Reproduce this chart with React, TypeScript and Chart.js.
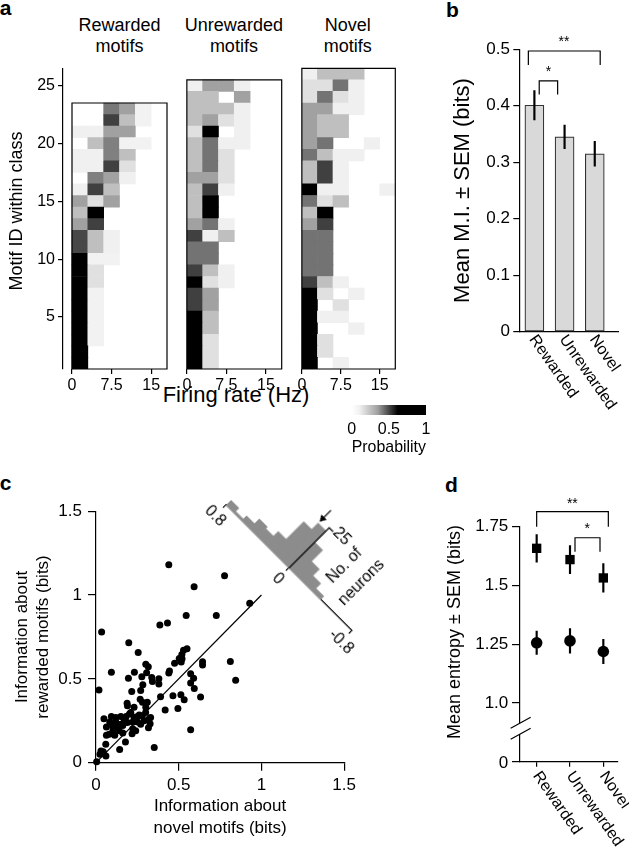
import React, { useEffect, useRef } from "react";
import { Chart, registerables } from "chart.js";

Chart.register(...registerables);

const FONT = "'Liberation Sans', Arial, Helvetica, sans-serif";
Chart.defaults.font.family = FONT;
Chart.defaults.color = "#000";

/* ================= panel a : firing-rate distributions ================= */
const FIRING_BIN_CENTERS = [1.5, 4.5, 7.5, 10.5, 13.5, 16.5];
const FIRING_BIN_WIDTH = 3;
const FIRING_TICKS = [0, 7.5, 15];
const MOTIF_TICKS = [5, 10, 15, 20, 25];
const MOTIF_MIN = 0.5;
const MOTIF_MAX = 26.5;
const HEATMAP_TITLES = ["Rewarded", "Unrewarded", "Novel"];
const PROB_TICKS = [0, 0.5, 1];

// probability per cell; rows from the highest motif ID (top) down to motif 1
const REWARDED_GRID = [
  [0, 0, 0.53, 0.37, 0.05, 0],
  [0, 0, 0.75, 0.25, 0.05, 0],
  [0.06, 0.06, 0.37, 0.37, 0, 0],
  [0, 0.25, 0.5, 0.05, 0.05, 0],
  [0.06, 0.06, 0.5, 0.25, 0, 0],
  [0.06, 0.06, 0.75, 0.12, 0, 0],
  [0, 0.5, 0.37, 0.06, 0, 0],
  [0.06, 0.75, 0.25, 0, 0, 0],
  [0.37, 0.12, 0.37, 0, 0, 0],
  [0.25, 1, 0, 0, 0, 0],
  [0.37, 0.75, 0, 0, 0, 0],
  [0.72, 0.25, 0.06, 0, 0, 0],
  [0.72, 0.25, 0.06, 0, 0, 0],
  [1, 0.05, 0.05, 0, 0, 0],
  [1, 0.12, 0, 0, 0, 0],
  [1, 0.12, 0, 0, 0, 0],
  [1, 0.05, 0, 0, 0, 0],
  [1, 0.05, 0, 0, 0, 0],
  [1, 0.05, 0, 0, 0, 0],
  [1, 0.05, 0, 0, 0, 0],
  [1, 0.05, 0, 0, 0, 0],
  [1, 0, 0, 0, 0, 0],
  [1, 0, 0, 0, 0, 0],
];

const UNREWARDED_GRID = [
  [0.06, 0.37, 0.37, 0.06, 0, 0],
  [0.25, 0.25, 0, 0.37, 0, 0],
  [0.25, 0.25, 0.25, 0.06, 0, 0],
  [0.25, 0.37, 0.12, 0.06, 0, 0],
  [0.12, 1, 0, 0.06, 0, 0],
  [0.25, 0.55, 0.06, 0.06, 0, 0],
  [0.25, 0.55, 0.12, 0, 0, 0],
  [0.25, 0.55, 0.12, 0, 0, 0],
  [0.37, 0.37, 0.12, 0, 0, 0],
  [0.25, 0.75, 0.06, 0, 0, 0],
  [0.25, 1, 0, 0, 0, 0],
  [0.25, 1, 0, 0, 0, 0],
  [0.37, 0.55, 0.06, 0, 0, 0],
  [0.75, 0.06, 0.25, 0, 0, 0],
  [0.55, 0.55, 0, 0, 0, 0],
  [0.55, 0.55, 0, 0, 0, 0],
  [0.75, 0.25, 0.06, 0, 0, 0],
  [1, 0.12, 0.06, 0, 0, 0],
  [0.75, 0.37, 0, 0, 0, 0],
  [0.75, 0.37, 0, 0, 0, 0],
  [1, 0.25, 0, 0, 0, 0],
  [1, 0.25, 0, 0, 0, 0],
  [1, 0.12, 0, 0, 0, 0],
  [1, 0.12, 0, 0, 0, 0],
  [1, 0.12, 0, 0, 0, 0],
];

const NOVEL_GRID = [
  [0.06, 0.25, 0.25, 0.25, 0, 0],
  [0.12, 0.12, 0.55, 0.06, 0, 0],
  [0.12, 0.55, 0.12, 0.06, 0, 0],
  [0.37, 0.37, 0.06, 0.06, 0, 0],
  [0.37, 0.25, 0.25, 0, 0, 0],
  [0.37, 0.25, 0.25, 0, 0, 0],
  [0.37, 0.55, 0, 0, 0.06, 0],
  [0.55, 0.25, 0.06, 0.06, 0, 0],
  [0.25, 0.75, 0.06, 0, 0, 0],
  [0.25, 0.75, 0.06, 0, 0, 0],
  [1, 0.06, 0.06, 0, 0, 0.06],
  [0.55, 0.12, 0.25, 0, 0, 0],
  [0.25, 1, 0, 0, 0, 0],
  [0.37, 0.75, 0, 0, 0, 0],
  [0.55, 0.55, 0, 0, 0, 0],
  [0.55, 0.55, 0, 0, 0, 0],
  [0.55, 0.55, 0, 0, 0, 0],
  [0.55, 0.55, 0, 0, 0, 0],
  [0.75, 0.25, 0.06, 0, 0, 0],
  [1, 0.12, 0, 0.06, 0, 0],
  [1, 0, 0.12, 0, 0, 0],
  [1, 0.06, 0.06, 0, 0, 0],
  [1, 0, 0, 0.06, 0, 0],
  [1, 0.12, 0, 0, 0, 0],
  [1, 0.12, 0, 0, 0, 0],
  [1, 0, 0.06, 0, 0, 0],
];

/* ================= panel b : mutual information ================= */
const CLASS_LABELS = ["Rewarded", "Unrewarded", "Novel"];
const MI_MEAN = [0.401, 0.345, 0.315];
const MI_SEM = [0.026, 0.021, 0.022];
const MI_TICKS = [0, 0.1, 0.2, 0.3, 0.4, 0.5];

/* ================= panel c : scatter + rotated histogram ================= */
const NOVEL_INFO = [
  0.929, 0.545, 0.727, 0.386, 0.432, 0.034, 0.198, 0.255, 0.529, 0.519, 0.503, 0.475, 0.515, 0.644, 0.644,
  0.812, 0.844, 0.093, 0.444, 0.44, 0.232, 0.301, 0.316, 0.306, 0.196, 0.277, 0.283, 0.337, 0.341, 0.216,
  0.018, 0.39, 0.572, 0.59, 0.572, 0.594, 0.465, 0.513, 0.533, 0.632, 0.495, 0.418, 0.572, 0.352, 0.267,
  0.281, 0.301, 0.188, 0.23, 0.261, 0.241, 0.202, 0.182, 0.15, 0.093, 0.048, 0.083, 0.119, 0.063, 0.103,
  0.127, 0.162, 0.222, 0.251, 0.321, 0.327, 0.317, 0.222, 0.218, 0.162, 0.113, 0.063, 0.059, 0.178, 0.143,
  0.044, 0.024, 0.004, 0.44, 0.777, 0.593, 0.12, 0.17, 0.21, 0.28, 0.3, 0.33, 0.14, 0.1, 0.19,
  0.24, 0.27, 0.29, 0.31, 0.38, 0.38, 0.52, 0.55, 0.27, 0.06, 0.03, 0.19, 0.23, 0.15, 0.08,
];
const REWARDED_INFO = [
  0.951, 0.878, 0.878, 0.821, 0.833, 0.78, 0.715, 0.657, 0.671, 0.646, 0.622, 0.593, 0.6, 0.602, 0.583,
  0.604, 0.492, 0.539, 0.547, 0.535, 0.539, 0.587, 0.572, 0.537, 0.504, 0.512, 0.465, 0.508, 0.484, 0.425,
  0.433, 0.394, 0.531, 0.504, 0.476, 0.443, 0.4, 0.406, 0.376, 0.392, 0.323, 0.315, 0.197, 0.091, 0.378,
  0.36, 0.331, 0.354, 0.331, 0.285, 0.272, 0.291, 0.276, 0.276, 0.276, 0.262, 0.242, 0.242, 0.213, 0.193,
  0.213, 0.222, 0.242, 0.242, 0.262, 0.232, 0.209, 0.203, 0.173, 0.177, 0.163, 0.163, 0.11, 0.124, 0.079,
  0.065, 0.051, 0.006, 1.181, 1.115, 1.05, 0.27, 0.26, 0.3, 0.28, 0.3, 0.27, 0.19, 0.22, 0.24,
  0.19, 0.23, 0.25, 0.36, 0.5, 0.47, 0.62, 0.68, 0.43, 0.04, 0.07, 0.34, 0.27, 0.23, 0.17,
];
const INFO_TICKS = [0, 0.5, 1, 1.5];
const DIAGONAL_END = 1.0;
// histogram of (rewarded - novel) information, 0.1-bit bins
const DIFF_BIN_CENTERS = [0.75, 0.65, 0.55, 0.45, 0.35, 0.25, 0.15, 0.05, -0.05, -0.15, -0.25, -0.35];
const DIFF_COUNTS = [3, 1, 3, 6, 5, 8, 19, 23, 16, 9, 5, 2];
const DIFF_TICKS = [0.8, 0, -0.8];
const DIFF_MEAN = 0.1;
const COUNT_TICK = 25;

/* ================= panel d : entropy ================= */
const ENTROPY_SQ_MEAN = [1.658, 1.61, 1.532];
const ENTROPY_SQ_SEM = [0.059, 0.06, 0.061];
const ENTROPY_CI_MEAN = [1.256, 1.264, 1.219];
const ENTROPY_CI_SEM = [0.05, 0.052, 0.052];
const ENTROPY_TICKS = [0.75, 1, 1.25, 1.5, 1.75];
const ENTROPY_TICK_LABELS = ["0", "1.0", "1.25", "1.5", "1.75"];

/* ================= helpers ================= */
const fixTicks = (vals: number[]) => (scale: any) => {
  scale.ticks = vals.map((v) => ({ value: v }));
};
const fixW = (w: number) => (scale: any) => {
  scale.width = w;
};
const fixH = (h: number) => (scale: any) => {
  scale.height = h;
};
const grayOf = (v: number) => {
  const g = Math.round(255 * (1 - v));
  return `rgb(${g},${g},${g})`;
};
const makeBase = () => ({
  animation: false,
  responsive: false,
  maintainAspectRatio: false,
  events: [],
});
const makeNoPlugins = () => ({ legend: { display: false }, tooltip: { enabled: false }, title: { display: false } });

type Mark = { x: number; y: number; text: string; size: number; align?: string; baseline?: string; rot?: number; pixel?: boolean };
const textMarks = (id: string, marks: Mark[]) => ({
  id,
  afterDraw(chart: any) {
    const { ctx, scales } = chart;
    ctx.save();
    ctx.fillStyle = "#000";
    for (const m of marks) {
      const px = m.pixel ? m.x : scales.x.getPixelForValue(m.x);
      const py = m.pixel ? m.y : scales.y.getPixelForValue(m.y);
      ctx.save();
      ctx.translate(px, py);
      if (m.rot) ctx.rotate(m.rot);
      ctx.font = `${m.size}px ${FONT}`;
      ctx.textAlign = m.align || "center";
      ctx.textBaseline = m.baseline || "middle";
      ctx.fillText(m.text, 0, 0);
      ctx.restore();
    }
    ctx.restore();
  },
});

// y tick labels drawn at the y scale's pixels (used for the broken entropy axis)
const yTickLabels = (id: string, values: number[], labels: string[], size: number, gap: number) => ({
  id,
  afterDraw(chart: any) {
    const { ctx, scales, chartArea } = chart;
    ctx.save();
    ctx.font = `${size}px ${FONT}`;
    ctx.fillStyle = "#000";
    ctx.textAlign = "right";
    ctx.textBaseline = "middle";
    values.forEach((v, i) => ctx.fillText(labels[i], chartArea.left - gap, scales.y.getPixelForValue(v)));
    ctx.restore();
  },
});

const rotatedCategoryLabels = (id: string, labels: string[], dx: number, dy: number, size: number, deg: number) => ({
  id,
  afterDraw(chart: any) {
    const { ctx, scales, chartArea } = chart;
    ctx.save();
    ctx.font = `${size}px ${FONT}`;
    ctx.fillStyle = "#000";
    ctx.textAlign = "left";
    ctx.textBaseline = "middle";
    labels.forEach((lab, i) => {
      const px = scales.x.getPixelForValue(i);
      ctx.save();
      ctx.translate(px + dx, chartArea.bottom + dy);
      ctx.rotate((deg * Math.PI) / 180);
      ctx.fillText(lab, 0, 0);
      ctx.restore();
    });
    ctx.restore();
  },
});

const lineDs = (data: any[], extra: any = {}) => ({
  type: "line",
  data,
  borderColor: "#000",
  borderWidth: 1.2,
  pointRadius: 0,
  fill: false,
  tension: 0,
  clip: false,
  order: 0,
  ...extra,
});

const bracket = (x0: number, x1: number, yTop: number, yLeg: number) => [
  { x: x0, y: yLeg },
  { x: x0, y: yTop },
  { x: x1, y: yTop },
  { x: x1, y: yLeg },
];

/* ================= chart configs ================= */
function heatmapConfig(grid: number[][], showY: boolean, xMin: number, pad: any) {
  const n = grid.length;
  const xMax = FIRING_BIN_CENTERS.length * FIRING_BIN_WIDTH;
  const cells: any[] = [];
  grid.forEach((row, i) => {
    const id = n - i;
    row.forEach((v, j) => {
      if (v > 0) cells.push({ x: FIRING_BIN_CENTERS[j], y: [id - 0.5, id + 0.5], v });
    });
  });
  return {
    type: "bar",
    data: {
      datasets: [
        {
          type: "bar",
          data: cells.map((c) => ({ x: c.x, y: c.y })),
          backgroundColor: cells.map((c) => grayOf(c.v)),
          borderWidth: 0,
          barPercentage: 1,
          categoryPercentage: 1,
          order: 1,
        },
        lineDs([
          { x: 0, y: MOTIF_MIN },
          { x: xMax, y: MOTIF_MIN },
          { x: xMax, y: n + 0.5 },
          { x: 0, y: n + 0.5 },
          { x: 0, y: MOTIF_MIN },
        ]),
      ],
    },
    options: {
      ...makeBase(),
      layout: { padding: pad },
      plugins: makeNoPlugins(),
      scales: {
        x: {
          type: "linear",
          offset: false,
          min: xMin,
          max: xMax,
          afterBuildTicks: fixTicks(FIRING_TICKS),
          afterFit: fixH(31),
          grid: { offset: false, drawOnChartArea: false, drawTicks: true, tickLength: 5, color: "#000", lineWidth: 1.2 },
          border: { display: false },
          ticks: { font: { size: 16 }, color: "#000", padding: 2.4, maxRotation: 0, autoSkip: false, callback: (v: any) => String(v) },
        },
        y: {
          type: "linear",
          display: showY,
          min: MOTIF_MIN,
          max: MOTIF_MAX,
          afterBuildTicks: fixTicks(MOTIF_TICKS),
          afterFit: fixW(showY ? 63 : 0),
          grid: { drawOnChartArea: false, tickLength: 5, color: "#000", lineWidth: 1.2 },
          border: { display: true, color: "#000", width: 1.2 },
          ticks: { font: { size: 16 }, color: "#000", padding: 3, autoSkip: false, callback: (v: any) => String(v) },
        },
      },
    },
    plugins: showY
      ? [textMarks("aTitle", [{ x: 17, y: 156, text: "Motif ID within class", size: 18, rot: -Math.PI / 2, pixel: true }])]
      : [],
  };
}

function colorbarConfig() {
  return {
    type: "bar",
    data: {
      labels: ["p"],
      datasets: [
        {
          data: [[PROB_TICKS[0], PROB_TICKS[PROB_TICKS.length - 1]]],
          backgroundColor: (c: any) => {
            const ca = c.chart.chartArea;
            if (!ca) return "#888";
            const g = c.chart.ctx.createLinearGradient(ca.left, 0, ca.right, 0);
            g.addColorStop(0, "#ffffff");
            g.addColorStop(0.1, "#f2f2f2");
            g.addColorStop(0.35, "#a0a0a0");
            g.addColorStop(0.62, "#000000");
            g.addColorStop(1, "#000000");
            return g;
          },
          borderWidth: 0,
          barPercentage: 1,
          categoryPercentage: 1,
        },
      ],
    },
    options: {
      ...makeBase(),
      indexAxis: "y",
      layout: { padding: { left: 21.7, right: 14, top: 7, bottom: 0 } },
      plugins: makeNoPlugins(),
      scales: {
        x: {
          type: "linear",
          min: 0,
          max: 1,
          afterBuildTicks: fixTicks(PROB_TICKS),
          afterFit: fixH(45),
          grid: { display: false, drawTicks: false },
          border: { display: false },
          ticks: { font: { size: 16 }, color: "#000", padding: 5.4, maxRotation: 0, callback: (v: any) => String(v) },
          title: { display: true, text: "Probability", font: { size: 17 }, color: "#000", padding: { top: 0, bottom: 2.8 } },
        },
        y: { display: false },
      },
    },
  };
}

function miConfig() {
  return {
    type: "bar",
    data: {
      datasets: [
        {
          type: "bar",
          data: MI_MEAN.map((m, i) => ({ x: i, y: [m - MI_SEM[i], m + MI_SEM[i]] })),
          backgroundColor: "#000",
          borderWidth: 0,
          barThickness: 1.5,
          grouped: false,
          order: 1,
        },
        {
          type: "bar",
          data: MI_MEAN.map((m, i) => ({ x: i, y: m })),
          backgroundColor: "#d9d9d9",
          borderColor: "#333",
          borderWidth: 1.2,
          borderSkipped: false,
          barThickness: 19,
          grouped: false,
          order: 2,
        },
        lineDs(bracket(-0.2, 2.18, 0.497, 0.472)),
        lineDs(bracket(0.16, 0.77, 0.444, 0.42)),
      ],
    },
    options: {
      ...makeBase(),
      layout: { padding: { left: 0, right: 11, top: 19.3, bottom: 0 } },
      plugins: makeNoPlugins(),
      scales: {
        x: {
          type: "linear",
          offset: false,
          min: -0.5,
          max: 2.77,
          afterBuildTicks: fixTicks([0, 1, 2]),
          afterFit: fixH(108.3),
          grid: { display: false, offset: false },
          border: { display: true, color: "#000", width: 1.2 },
          ticks: { display: false },
        },
        y: {
          type: "linear",
          min: 0,
          max: 0.5,
          afterBuildTicks: fixTicks(MI_TICKS),
          afterFit: fixW(79.3),
          grid: { drawOnChartArea: false, tickLength: 6, color: "#000", lineWidth: 1.2 },
          border: { display: true, color: "#000", width: 1.2 },
          ticks: { font: { size: 17 }, color: "#000", padding: 3.3, autoSkip: false, callback: (v: any) => String(v) },
          title: { display: true, text: "Mean M.I. \u00b1 SEM (bits)", font: { size: 22 }, color: "#000", padding: { top: 9.8, bottom: 0 } },
        },
      },
    },
    plugins: [
      textMarks("starsB", [
        { x: 0.98, y: 0.5, text: "**", size: 14, baseline: "bottom" },
        { x: 0.465, y: 0.447, text: "*", size: 14, baseline: "bottom" },
      ]),
      rotatedCategoryLabels("rotCatB", CLASS_LABELS, -2, 5, 16, 55),
    ],
  };
}

function scatterConfig() {
  return {
    type: "scatter",
    data: {
      datasets: [
        {
          type: "scatter",
          data: NOVEL_INFO.map((x, i) => ({ x, y: REWARDED_INFO[i] })),
          pointRadius: 3.5,
          backgroundColor: "#000",
          borderWidth: 0,
          clip: false,
          order: 1,
        },
        lineDs([
          { x: 0, y: 0 },
          { x: DIAGONAL_END, y: DIAGONAL_END },
        ], { order: 2 }),
      ],
    },
    options: {
      ...makeBase(),
      layout: { padding: { left: 0, right: 11.7, top: 13.7, bottom: 0 } },
      plugins: makeNoPlugins(),
      scales: {
        x: {
          type: "linear",
          min: 0,
          max: 1.5,
          afterBuildTicks: fixTicks(INFO_TICKS),
          afterFit: fixH(90.3),
          grid: { drawOnChartArea: false, tickLength: 8, color: "#000", lineWidth: 1.2 },
          border: { display: true, color: "#000", width: 1.2 },
          ticks: { font: { size: 17 }, color: "#000", padding: 4, maxRotation: 0, autoSkip: false, callback: (v: any) => String(v) },
          title: {
            display: true,
            text: ["Information about", "novel motifs (bits)"],
            font: { size: 17, lineHeight: 1.25 },
            color: "#000",
            padding: { top: 0, bottom: 14.4 },
          },
        },
        y: {
          type: "linear",
          min: 0,
          max: 1.5,
          afterBuildTicks: fixTicks(INFO_TICKS),
          afterFit: fixW(96),
          grid: { drawOnChartArea: false, tickLength: 8, color: "#000", lineWidth: 1.2 },
          border: { display: true, color: "#000", width: 1.2 },
          ticks: { font: { size: 17 }, color: "#000", padding: 6, autoSkip: false, callback: (v: any) => String(v) },
          title: {
            display: true,
            text: ["Information about", "rewarded motifs (bits)"],
            font: { size: 17, lineHeight: 1.25 },
            color: "#000",
            padding: { top: 11.4, bottom: 0 },
          },
        },
      },
    },
  };
}

function histConfig() {
  return {
    type: "bar",
    data: {
      datasets: [
        {
          type: "bar",
          data: DIFF_BIN_CENTERS.map((c, i) => ({ x: c, y: DIFF_COUNTS[i] })),
          backgroundColor: "#8c8c8c",
          borderWidth: 0,
          barPercentage: 1,
          categoryPercentage: 1,
          order: 3,
        },
        lineDs(
          [
            { x: 0, y: 0 },
            { x: 0, y: COUNT_TICK },
            { x: -0.05, y: COUNT_TICK },
          ],
          { borderWidth: 1.3, order: 1 }
        ),
        lineDs(
          [
            { x: DIFF_MEAN, y: 31 },
            { x: DIFF_MEAN, y: 25.8 },
          ],
          { pointRadius: [0, 3.2], pointStyle: "triangle", pointRotation: 180, backgroundColor: "#000", order: 0 }
        ),
      ],
    },
    options: {
      ...makeBase(),
      layout: { padding: { left: 40, right: 42, top: 40, bottom: 0 } },
      plugins: makeNoPlugins(),
      scales: {
        x: {
          type: "linear",
          reverse: true,
          offset: false,
          min: -0.8,
          max: 0.8,
          afterBuildTicks: fixTicks(DIFF_TICKS),
          afterFit: fixH(55),
          grid: { offset: false, drawOnChartArea: false, tickLength: 4, color: "#000", lineWidth: 1.2 },
          border: { display: true, color: "#000", width: 1.3 },
          ticks: { font: { size: 16 }, color: "#000", padding: 2.4, maxRotation: 0, autoSkip: false, callback: (v: any) => String(v) },
        },
        y: { display: false, min: 0, max: 33 },
      },
    },
    plugins: [
      textMarks("histText", [
        { x: -0.055, y: 26, text: String(COUNT_TICK), size: 16, align: "left" },
        { x: -0.34, y: 18, text: "No. of", size: 16, rot: -Math.PI / 2 },
        { x: -0.55, y: 18, text: "neurons", size: 16, rot: -Math.PI / 2 },
      ]),
    ],
  };
}

function entropyConfig() {
  const errBars = (mean: number[], sem: number[]) => ({
    type: "bar",
    data: mean.map((m, i) => ({ x: i, y: [m - sem[i], m + sem[i]] })),
    backgroundColor: "#000",
    borderWidth: 0,
    barThickness: 1.5,
    grouped: false,
    order: 2,
  });
  return {
    type: "scatter",
    data: {
      datasets: [
        {
          type: "scatter",
          data: ENTROPY_SQ_MEAN.map((m, i) => ({ x: i, y: m })),
          pointStyle: "rect",
          pointRadius: 6.6,
          backgroundColor: "#000",
          borderWidth: 0,
          clip: false,
          order: 0,
        },
        {
          type: "scatter",
          data: ENTROPY_CI_MEAN.map((m, i) => ({ x: i, y: m })),
          pointStyle: "circle",
          pointRadius: 5.8,
          backgroundColor: "#000",
          borderWidth: 0,
          clip: false,
          order: 0,
        },
        errBars(ENTROPY_SQ_MEAN, ENTROPY_SQ_SEM),
        errBars(ENTROPY_CI_MEAN, ENTROPY_CI_SEM),
        lineDs(bracket(0, 2.15, 1.814, 1.75)),
        lineDs(bracket(1.15, 1.9, 1.703, 1.643)),
        lineDs([
          { x: -0.5, y: 0.868 },
          { x: -0.5, y: 0.913 },
        ], { borderColor: "#fff", borderWidth: 4, order: 1 }),
        lineDs([
          { x: -0.78, y: 0.8925 },
          { x: -0.18, y: 0.939 },
        ], { order: 0 }),
        lineDs([
          { x: -0.78, y: 0.8456 },
          { x: -0.18, y: 0.8925 },
        ], { order: 0 }),
      ],
    },
    options: {
      ...makeBase(),
      layout: { padding: { left: 0, right: 11, top: 36.7, bottom: 0 } },
      plugins: makeNoPlugins(),
      scales: {
        x: {
          type: "linear",
          offset: false,
          min: -0.5,
          max: 2.44,
          afterBuildTicks: fixTicks([0, 1, 2]),
          afterFit: fixH(91.3),
          grid: { offset: false, drawOnChartArea: false, tickLength: 5, color: "#000", lineWidth: 1.2 },
          border: { display: true, color: "#000", width: 1.2 },
          ticks: { display: false },
        },
        y: {
          type: "linear",
          min: 0.75,
          max: 1.75,
          afterBuildTicks: fixTicks(ENTROPY_TICKS),
          afterFit: fixW(80),
          grid: { drawOnChartArea: false, tickLength: 8, color: "#000", lineWidth: 1.2 },
          border: { display: true, color: "#000", width: 1.2 },
          ticks: { display: false },
        },
      },
    },
    plugins: [
      yTickLabels("yLabD", ENTROPY_TICKS.slice(1), ENTROPY_TICK_LABELS.slice(1), 17, 11.7),
      textMarks("starsD", [
        { x: 1.07, y: 1.818, text: "**", size: 14, baseline: "bottom" },
        { x: 1.52, y: 1.708, text: "*", size: 14, baseline: "bottom" },
        { x: 15, y: 142, text: "Mean entropy \u00b1 SEM (bits)", size: 18, rot: -Math.PI / 2, pixel: true },
      ]),
      rotatedCategoryLabels("rotCatD", CLASS_LABELS, -0.5, 11.6, 16, 55),
    ],
  };
}

/* ================= components ================= */
function ChartCanvas({ box, make, extraStyle }: { box: any; make: () => any; extraStyle?: any }) {
  const ref = useRef<HTMLCanvasElement | null>(null);
  useEffect(() => {
    if (!ref.current) return;
    const chart = new Chart(ref.current, make() as any);
    return () => chart.destroy();
  }, []);
  return (
    <canvas
      ref={ref}
      width={box.w}
      height={box.h}
      style={{ position: "absolute", left: box.left, top: box.top, width: box.w, height: box.h, ...(extraStyle || {}) }}
    />
  );
}

function Txt({ x, y, size, children, bold, lh }: any) {
  return (
    <div
      style={{
        position: "absolute",
        left: x,
        top: y,
        fontSize: size,
        lineHeight: `${lh || size}px`,
        fontWeight: bold ? "bold" : "normal",
        transform: "translateX(-50%)",
        whiteSpace: "nowrap",
        textAlign: "center",
        fontFamily: FONT,
        color: "#000",
      }}
    >
      {children}
    </div>
  );
}

export default function App() {
  const titleX = [119.5, 233.9, 347.7];
  return (
    <div style={{ position: "absolute", left: 0, top: 0, width: 629, height: 853, background: "#fff", overflow: "hidden" }}>
      {/* panel letters */}
      <Txt x={5.5} y={-2.8} size={21} bold>a</Txt>
      <Txt x={452.5} y={-1} size={21} bold>b</Txt>
      <Txt x={5.5} y={472} size={21} bold>c</Txt>
      <Txt x={451.5} y={474} size={21} bold>d</Txt>

      {HEATMAP_TITLES.map((t, i) => (
        <Txt key={t} x={titleX[i]} y={14.7} size={18} lh={21.6}>
          {t}
          <br />
          motifs
        </Txt>
      ))}
      <Txt x={236} y={384} size={22}>Firing rate (Hz)</Txt>

      <ChartCanvas box={{ left: 0, top: 55, w: 175, h: 345 }} make={() => heatmapConfig(REWARDED_GRID, true, -1.705, { left: 0, right: 8, top: 13.3, bottom: 0 })} />
      <ChartCanvas box={{ left: 180, top: 55, w: 110, h: 345 }} make={() => heatmapConfig(UNREWARDED_GRID, false, 0, { left: 6.7, right: 8.3, top: 13.3, bottom: 0 })} />
      <ChartCanvas box={{ left: 295, top: 55, w: 110, h: 345 }} make={() => heatmapConfig(NOVEL_GRID, false, 0, { left: 5.3, right: 9.7, top: 13.3, bottom: 0 })} />
      <ChartCanvas box={{ left: 330, top: 398, w: 110, h: 62 }} make={colorbarConfig} />

      <ChartCanvas box={{ left: 440, top: 490, w: 189, h: 363 }} make={entropyConfig} />

      <ChartCanvas box={{ left: 440, top: 30, w: 189, h: 410 }} make={miConfig} />

      <ChartCanvas box={{ left: 0, top: 495, w: 360, h: 358 }} make={scatterConfig} />
      <ChartCanvas
        box={{ left: 160.2, top: 453.3, w: 260, h: 170 }}
        make={histConfig}
        extraStyle={{ transform: "rotate(45deg)", transformOrigin: "129px 115px" }}
      />

      {/* bottom label of the broken entropy axis */}
      <div
        style={{
          position: "absolute",
          left: 508.3,
          top: 761.7,
          transform: "translate(-100%, -50%)",
          fontSize: 17,
          lineHeight: "17px",
          fontFamily: FONT,
          color: "#000",
          whiteSpace: "nowrap",
        }}
      >
        {ENTROPY_TICK_LABELS[0]}
      </div>
    </div>
  );
}
